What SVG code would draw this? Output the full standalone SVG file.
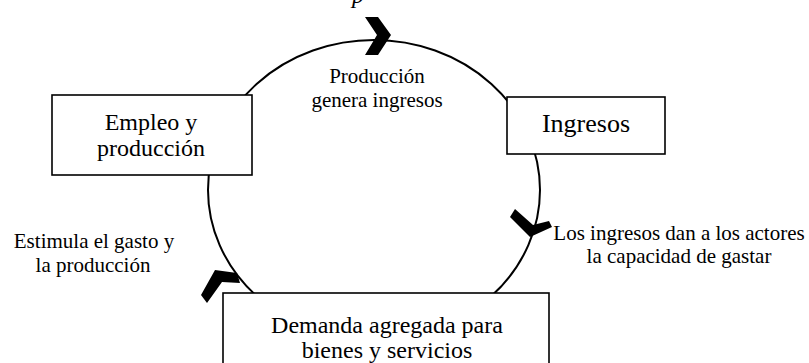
<svg xmlns="http://www.w3.org/2000/svg" width="809" height="363" viewBox="0 0 809 363">
<style>
.box{fill:#fff;stroke:#000;stroke-width:1.6}
.t{font-family:"Liberation Serif","Times New Roman",serif;fill:#000;text-anchor:middle}
.lbl{font-size:21px}
.chev{fill:#000;stroke:none}
</style>
<rect width="809" height="363" fill="#fff"/>
<text class="t" x="358" y="3" font-size="24" font-style="italic">p</text>
<g id="connectors">
<ellipse cx="374" cy="190" rx="166" ry="150" fill="none" stroke="#000" stroke-width="2"/>
<polygon class="chev" points="365,17 378,17 391,35 378,55 365,55 377,35"/>
<polygon class="chev" points="515,209 533,225 549,221 552,227 530,237 510,217"/>
<polygon class="chev" points="201,295 215,270 237,273 240,283 222,282 207,303"/>
<text class="t lbl" x="377" y="83">Producción</text>
<text class="t lbl" x="377" y="107">genera ingresos</text>
<text class="t lbl" x="679" y="240">Los ingresos dan a los actores</text>
<text class="t lbl" x="679" y="263">la capacidad de gastar</text>
<text class="t lbl" x="94" y="248">Estimula el gasto y</text>
<text class="t lbl" x="93" y="272">la producción</text>
</g>
<g id="empleo">
<rect class="box" x="52" y="95" width="200" height="80"/>
<text class="t" x="151" y="130" font-size="24">Empleo y</text>
<text class="t" x="151" y="156" font-size="24">producción</text>
</g>
<g id="ingresos">
<rect class="box" x="507" y="97" width="158" height="57"/>
<text class="t" x="586" y="132" font-size="26">Ingresos</text>
</g>
<g id="demanda">
<rect class="box" x="223" y="293" width="326" height="80"/>
<text class="t" x="387" y="333" font-size="24">Demanda agregada para</text>
<text class="t" x="387" y="358" font-size="24">bienes y servicios</text>
</g>
</svg>
